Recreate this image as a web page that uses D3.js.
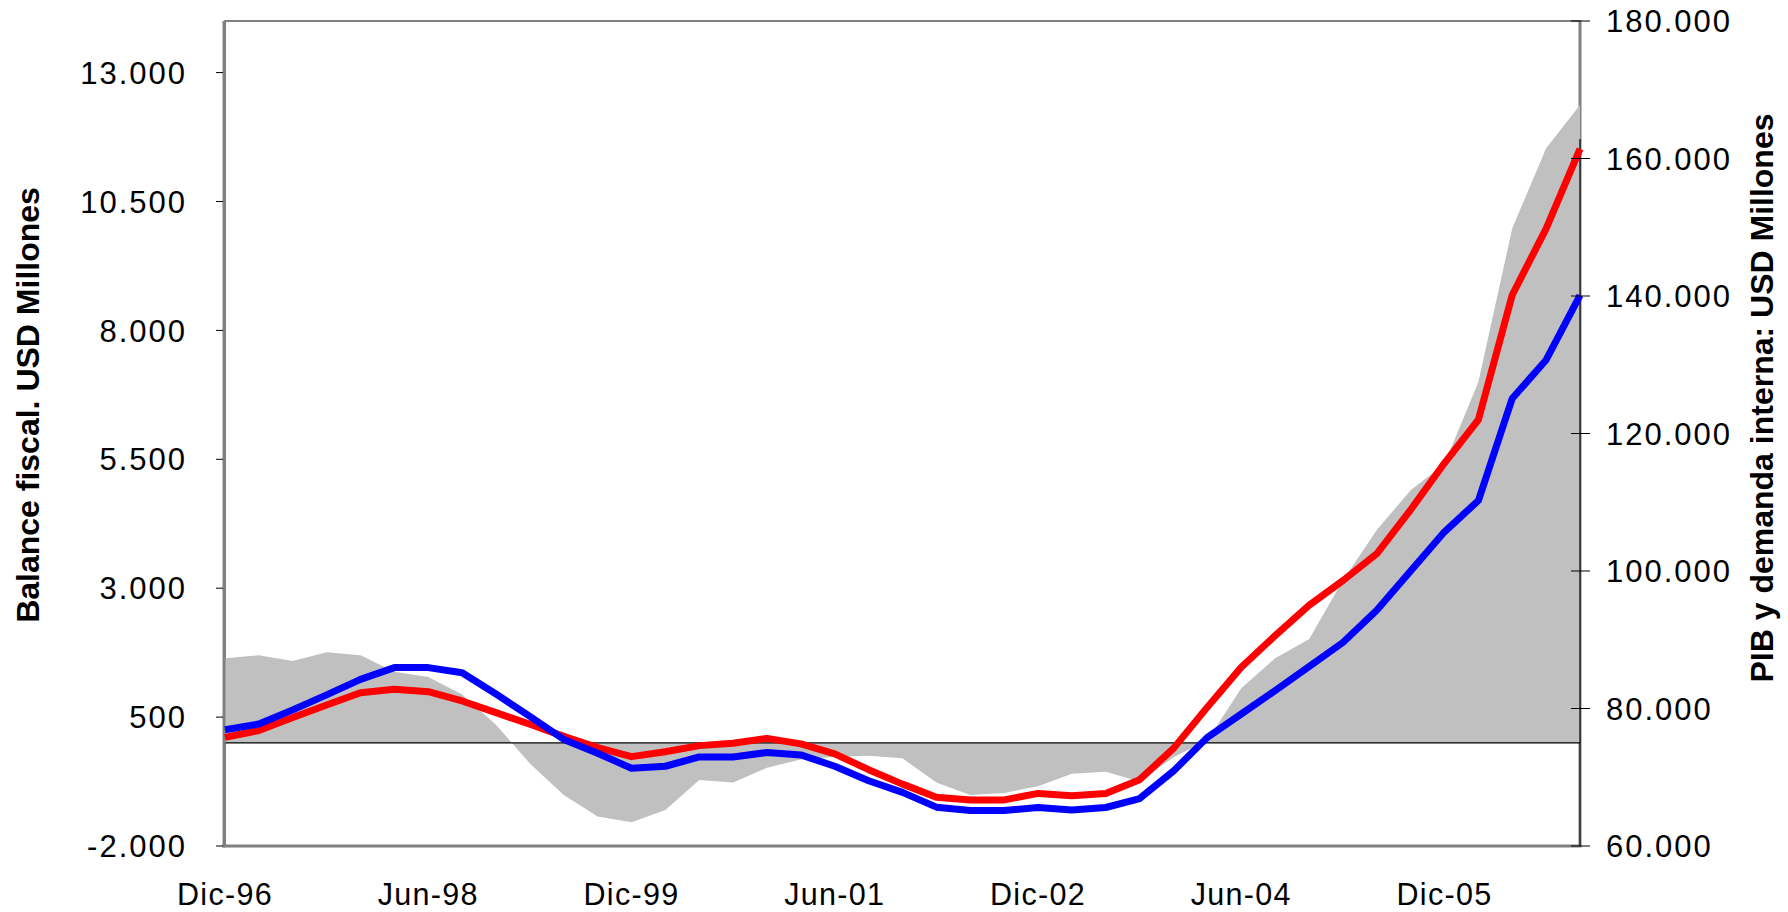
<!DOCTYPE html>
<html>
<head>
<meta charset="utf-8">
<script src="https://cdn.jsdelivr.net/npm/d3@7"></script>
<style>
  body { margin: 0; background: #fff; }
  text { font-family: "Liberation Sans", Arial, sans-serif; fill: #000; }
  .tick-label { font-size: 31px; letter-spacing: 2px; }
  .x-label { font-size: 30.5px; letter-spacing: 1.3px; }
  .axis-title { font-size: 32px; font-weight: bold; }
</style>
</head>
<body>
<div id="chart"></div>
<script>
// Quarterly series, Dic-96 .. Dic-06
const quarters = [
  'Dic-96', 'Mar-97', 'Jun-97', 'Sep-97', 'Dic-97', 'Mar-98', 'Jun-98', 'Sep-98', 'Dic-98',
  'Mar-99', 'Jun-99', 'Sep-99', 'Dic-99', 'Mar-00', 'Jun-00', 'Sep-00', 'Dic-00',
  'Mar-01', 'Jun-01', 'Sep-01', 'Dic-01', 'Mar-02', 'Jun-02', 'Sep-02', 'Dic-02',
  'Mar-03', 'Jun-03', 'Sep-03', 'Dic-03', 'Mar-04', 'Jun-04', 'Sep-04', 'Dic-04',
  'Mar-05', 'Jun-05', 'Sep-05', 'Dic-05', 'Mar-06', 'Jun-06', 'Sep-06', 'Dic-06'
];

// Balance fiscal (left axis), grey area
const balanceFiscal = [
  1640, 1700, 1590, 1760, 1700, 1380, 1280, 940, 350,
  -400, -1010, -1430, -1540, -1300, -720, -770, -480,
  -320, -270, -250, -300, -770, -1010, -970, -840,
  -600, -560, -750, -280, 50, 1060, 1640, 2010,
  3150, 4130, 4900, 5410, 7000, 9980, 11530, 12370
];

// Red line (right axis)
const pib = [
  75800, 76800, 78700, 80500, 82300, 82800, 82450, 81100, 79400,
  77700, 75950, 74300, 73000, 73700, 74600, 74950, 75650,
  74850, 73400, 71100, 69000, 67100, 66700, 66700, 67650,
  67300, 67650, 69650, 74200, 80200, 86000, 90600, 95000,
  98600, 102500, 108900, 115700, 122000, 140150, 149800, 161400
];

// Blue line (right axis)
const demandaInterna = [
  76900, 77750, 79800, 81980, 84240, 85950, 85950, 85200, 82100,
  78850, 75500, 73500, 71300, 71600, 72950, 72950, 73600,
  73250, 71600, 69500, 67800, 65650, 65150, 65150, 65600,
  65250, 65600, 66900, 70900, 75800, 79200, 82600, 86100,
  89600, 94300, 100000, 105700, 110250, 125100, 130700, 140100
];

const xTickLabels = ['Dic-96', 'Jun-98', 'Dic-99', 'Jun-01', 'Dic-02', 'Jun-04', 'Dic-05'];
const leftTicks = [-2000, 500, 3000, 5500, 8000, 10500, 13000];
const rightTicks = [60000, 80000, 100000, 120000, 140000, 160000, 180000];

const width = 1788;
const height = 912;
const plot = { left: 225, right: 1580, top: 21, bottom: 846 };

const locale = d3.formatLocale({ decimal: ',', thousands: '.', grouping: [3], currency: ['', ''], minus: '-' });
const fmt = locale.format(',d');

const x = d3.scalePoint()
    .domain(quarters)
    .range([plot.left, plot.right]);

const yLeft = d3.scaleLinear()
    .domain([-2000, 14000])
    .range([plot.bottom, plot.top]);

const yRight = d3.scaleLinear()
    .domain([60000, 180000])
    .range([plot.bottom, plot.top]);

const svg = d3.select('#chart')
  .append('svg')
    .attr('width', width)
    .attr('height', height);

// Plot frame
svg.append('rect')
    .attr('x', plot.left)
    .attr('y', plot.top)
    .attr('width', plot.right - plot.left)
    .attr('height', plot.bottom - plot.top)
    .attr('fill', '#fff')
    .attr('stroke', '#808080')
    .attr('stroke-width', 2);

svg.append('line')
    .attr('x1', plot.right).attr('x2', plot.right)
    .attr('y1', plot.top).attr('y2', plot.bottom)
    .attr('stroke', '#808080')
    .attr('stroke-width', 3);

// Grey area: balance fiscal
const area = d3.area()
    .x((d, i) => x(quarters[i]))
    .y0(yLeft(0))
    .y1(d => yLeft(d));

svg.append('path')
    .datum(balanceFiscal)
    .attr('d', area)
    .attr('fill', '#c0c0c0');

// Zero line
svg.append('line')
    .attr('x1', plot.left).attr('x2', plot.right)
    .attr('y1', yLeft(0)).attr('y2', yLeft(0))
    .attr('stroke', '#000')
    .attr('stroke-width', 1.2);

// Left and bottom borders
svg.append('line')
    .attr('x1', plot.left - 1).attr('x2', plot.left - 1)
    .attr('y1', plot.top).attr('y2', plot.bottom + 1.5)
    .attr('stroke', '#808080')
    .attr('stroke-width', 3);

svg.append('line')
    .attr('x1', plot.left - 2.5).attr('x2', plot.right + 1.5)
    .attr('y1', plot.bottom).attr('y2', plot.bottom)
    .attr('stroke', '#808080')
    .attr('stroke-width', 3);

// Right axis line
svg.append('line')
    .attr('x1', plot.right).attr('x2', plot.right)
    .attr('y1', yLeft(0)).attr('y2', plot.bottom)
    .attr('stroke', '#000')
    .attr('stroke-width', 1);
svg.append('line')
    .attr('x1', plot.right).attr('x2', plot.right)
    .attr('y1', yRight(d3.max(pib)) - 10).attr('y2', yLeft(0))
    .attr('stroke', '#000')
    .attr('stroke-width', 1.2);

// Lines
const lineRight = d3.line()
    .x((d, i) => x(quarters[i]))
    .y(d => yRight(d));

svg.append('path')
    .datum(pib)
    .attr('d', lineRight)
    .attr('fill', 'none')
    .attr('stroke', '#ff0000')
    .attr('stroke-width', 7)
    .attr('stroke-linejoin', 'round');

svg.append('path')
    .datum(demandaInterna)
    .attr('d', lineRight)
    .attr('fill', 'none')
    .attr('stroke', '#0000ff')
    .attr('stroke-width', 7)
    .attr('stroke-linejoin', 'round');

// Left axis ticks + labels
svg.selectAll('.left-tick')
  .data(leftTicks)
  .join('line')
    .attr('class', 'left-tick')
    .attr('x1', plot.left - 9).attr('x2', plot.left - 2)
    .attr('y1', d => yLeft(d)).attr('y2', d => yLeft(d))
    .attr('stroke', '#000')
    .attr('stroke-width', 1);

svg.selectAll('.left-label')
  .data(leftTicks)
  .join('text')
    .attr('class', 'tick-label left-label')
    .attr('text-anchor', 'end')
    .attr('x', 187)
    .attr('y', d => yLeft(d))
    .attr('dy', '0.36em')
    .text(d => fmt(d));

// Right axis ticks + labels
svg.selectAll('.right-tick')
  .data(rightTicks)
  .join('line')
    .attr('class', 'right-tick')
    .attr('x1', plot.right - 9).attr('x2', plot.right + 10)
    .attr('y1', d => yRight(d)).attr('y2', d => yRight(d))
    .attr('stroke', '#000')
    .attr('stroke-width', 1);

svg.selectAll('.right-label')
  .data(rightTicks)
  .join('text')
    .attr('class', 'tick-label right-label')
    .attr('text-anchor', 'start')
    .attr('x', 1606)
    .attr('y', d => yRight(d))
    .attr('dy', '0.36em')
    .text(d => fmt(d));

// X labels
svg.selectAll('.x-label')
  .data(xTickLabels)
  .join('text')
    .attr('class', 'x-label')
    .attr('text-anchor', 'middle')
    .attr('x', d => x(d))
    .attr('y', 905)
    .text(d => d);

// Axis titles
svg.append('text')
    .attr('class', 'axis-title')
    .attr('text-anchor', 'middle')
    .attr('transform', 'translate(39, 405) rotate(-90)')
    .text('Balance fiscal. USD Millones');

svg.append('text')
    .attr('class', 'axis-title')
    .attr('text-anchor', 'middle')
    .attr('transform', 'translate(1773, 398) rotate(-90)')
    .text('PIB y demanda interna: USD Millones');
</script>
</body>
</html>
